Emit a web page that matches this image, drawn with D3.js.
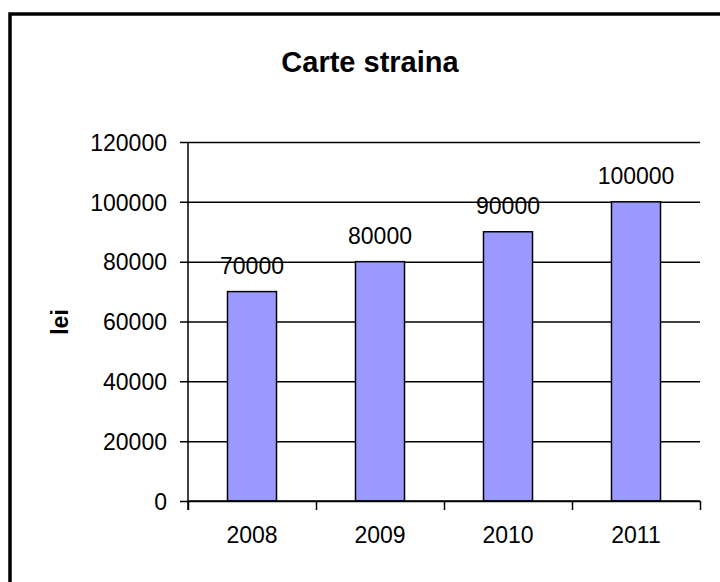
<!DOCTYPE html>
<html>
<head>
<meta charset="utf-8">
<script src="https://cdn.jsdelivr.net/npm/d3@7"></script>
<style>
    body { margin: 0; background: #fff; }
    svg { display: block; }
    text { font-family: "Liberation Sans", Arial, sans-serif; fill: #000; }
</style>
</head>
<body>
<svg id="chart" width="720" height="582"></svg>
<script>
'use strict';

var years = ['2008', '2009', '2010', '2011'];
var values = [70000, 80000, 90000, 100000];
var yTicks = [0, 20000, 40000, 60000, 80000, 100000, 120000];
var chartTitle = 'Carte straina';
var yTitle = 'lei';

var svg = d3.select('#chart');

var plot = { left: 188, right: 700, top: 142, bottom: 501 };

// chart frame, runs off the right and bottom edges like the original
svg.append('rect')
    .attr('x', 10).attr('y', 14)
    .attr('width', 760).attr('height', 640)
    .attr('fill', 'none')
    .attr('stroke', '#000')
    .attr('stroke-width', 3.5);

var x = d3.scaleBand()
    .domain(years)
    .range([plot.left, plot.right])
    .paddingInner(0.617)
    .paddingOuter(0.3085);

var xEdge = d3.scaleLinear()
    .domain([0, years.length])
    .range([plot.left, plot.right]);

var y = d3.scaleLinear()
    .domain([0, 120000])
    .range([plot.bottom, plot.top]);

// gridlines + y ticks/labels
var yAxis = d3.axisLeft(y)
    .tickValues(yTicks)
    .tickSize(-(plot.right - plot.left))
    .tickPadding(21)
    .tickFormat(d3.format('d'));

var gy = svg.append('g')
    .attr('transform', 'translate(' + plot.left + ',0)')
    .call(yAxis);
gy.select('.domain').remove();
gy.selectAll('.tick line')
    .attr('x1', -8)
    .attr('stroke', '#000')
    .attr('stroke-width', 1.5);
gy.selectAll('.tick text')
    .style('font-size', '23px')
    .attr('dy', '0.36em');

// bars
svg.append('g').selectAll('rect')
    .data(values)
    .enter()
    .append('rect')
    .attr('x', function (d, i) { return x(years[i]); })
    .attr('y', function (d) { return y(d); })
    .attr('width', x.bandwidth())
    .attr('height', function (d) { return y(0) - y(d); })
    .attr('fill', '#9999ff')
    .attr('stroke', '#000')
    .attr('stroke-width', 1.5);

// value labels
svg.append('g').selectAll('text')
    .data(values)
    .enter()
    .append('text')
    .attr('x', function (d, i) { return x(years[i]) + x.bandwidth() / 2; })
    .attr('y', function (d) { return y(d) - 18; })
    .attr('text-anchor', 'middle')
    .style('font-size', '23px')
    .text(function (d) { return d; });

// y axis line
svg.append('line')
    .attr('x1', plot.left).attr('x2', plot.left)
    .attr('y1', plot.top).attr('y2', plot.bottom + 9)
    .attr('stroke', '#000')
    .attr('stroke-width', 1.5);

// x axis: ticks between categories
var gx = svg.append('g')
    .attr('transform', 'translate(0,' + plot.bottom + ')')
    .call(d3.axisBottom(xEdge).ticks(years.length).tickSize(9).tickFormat(''));
gx.select('.domain')
    .attr('stroke', '#000')
    .attr('stroke-width', 1.5)
    .attr('d', 'M' + plot.left + ',0H' + plot.right);
gx.selectAll('.tick line')
    .attr('stroke', '#000')
    .attr('stroke-width', 1.5);

// x labels
svg.append('g')
    .attr('transform', 'translate(0,' + plot.bottom + ')')
    .call(d3.axisBottom(x).tickSize(0).tickPadding(26))
    .call(function (g) { g.select('.domain').remove(); })
    .selectAll('text')
    .style('font-size', '23px');

// titles
svg.append('text')
    .attr('x', 370).attr('y', 72)
    .attr('text-anchor', 'middle')
    .style('font-size', '29px')
    .style('font-weight', 'bold')
    .text(chartTitle);

svg.append('text')
    .attr('transform', 'translate(68,322) rotate(-90)')
    .attr('text-anchor', 'middle')
    .style('font-size', '23px')
    .style('font-weight', 'bold')
    .text(yTitle);
</script>
</body>
</html>
